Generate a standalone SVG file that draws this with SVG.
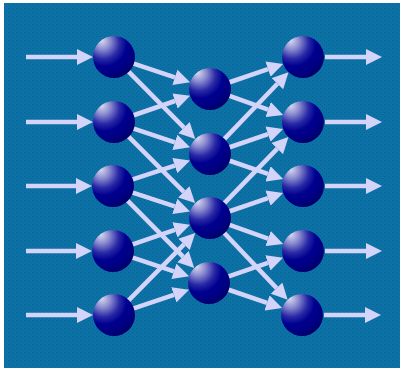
<svg xmlns="http://www.w3.org/2000/svg" width="400" height="369" viewBox="0 0 400 369">
<defs>
<radialGradient id="sph" cx="0.32" cy="0.25" r="0.85" fx="0.2" fy="0.1">
<stop offset="0" stop-color="#dcdcf2"/>
<stop offset="0.22" stop-color="#8c8cd0"/>
<stop offset="0.45" stop-color="#2828a6"/>
<stop offset="0.62" stop-color="#000090"/>
<stop offset="0.85" stop-color="#00007c"/>
<stop offset="1" stop-color="#00005a"/>
</radialGradient>
<pattern id="dots" width="4" height="4" patternUnits="userSpaceOnUse">
<rect width="4" height="4" fill="#0c72a6"/>
<rect x="0" y="0" width="1" height="1" fill="#0a6294"/>
<rect x="2" y="2" width="1" height="1" fill="#0a6698"/>
</pattern>
<marker id="ah" markerUnits="userSpaceOnUse" markerWidth="16" markerHeight="16" refX="0" refY="8" orient="auto" viewBox="0 0 16 16">
<path d="M0,0 L16,8 L0,16 z" fill="#d4d4fa"/>
</marker>
<style>
.e{stroke:#d4d4fa;stroke-width:4.5;fill:none;marker-end:url(#ah)}
.n{fill:url(#sph)}
</style>
</defs>
<rect x="0" y="0" width="400" height="369" fill="#ffffff"/>
<rect x="4" y="3" width="396" height="365" fill="url(#dots)"/>
<g id="connectors">
<line class="e" x1="26" y1="57" x2="77" y2="57"/>
<line class="e" x1="26" y1="122" x2="77" y2="122"/>
<line class="e" x1="26" y1="186" x2="76" y2="186"/>
<line class="e" x1="26" y1="251" x2="76" y2="251"/>
<line class="e" x1="26" y1="315" x2="77" y2="315"/>
<line class="e" x1="133" y1="63.3" x2="174.9" y2="77.3"/>
<line class="e" x1="128.1" y1="71.2" x2="184" y2="127.7"/>
<line class="e" x1="132.9" y1="115.5" x2="175" y2="101"/>
<line class="e" x1="133" y1="128.3" x2="174.9" y2="142.3"/>
<line class="e" x1="128.1" y1="136.1" x2="183.8" y2="191.8"/>
<line class="e" x1="132" y1="179.7" x2="174.8" y2="165.6"/>
<line class="e" x1="132" y1="192.3" x2="174.8" y2="206.4"/>
<line class="e" x1="127.1" y1="200.2" x2="183" y2="256.7"/>
<line class="e" x1="131.9" y1="244.6" x2="174.9" y2="229.9"/>
<line class="e" x1="132" y1="257.3" x2="173.9" y2="271.3"/>
<line class="e" x1="128.1" y1="300.8" x2="184" y2="244.3"/>
<line class="e" x1="133" y1="308.6" x2="173.9" y2="294.8"/>
<line class="e" x1="228.9" y1="82.5" x2="268" y2="69.1"/>
<line class="e" x1="228.8" y1="95.7" x2="268.1" y2="109.6"/>
<line class="e" x1="223.8" y1="139.6" x2="277.4" y2="83.7"/>
<line class="e" x1="228.9" y1="147.5" x2="268" y2="134.1"/>
<line class="e" x1="228.9" y1="160.5" x2="268" y2="173.9"/>
<line class="e" x1="223.9" y1="203.6" x2="277.3" y2="148.6"/>
<line class="e" x1="228.9" y1="211.5" x2="268" y2="198.1"/>
<line class="e" x1="228.8" y1="224.7" x2="268.1" y2="238.6"/>
<line class="e" x1="223.8" y1="232.5" x2="276.6" y2="288.1"/>
<line class="e" x1="227.9" y1="276.6" x2="267.9" y2="262.9"/>
<line class="e" x1="227.9" y1="289.5" x2="267" y2="302.9"/>
<line class="e" x1="325" y1="57" x2="366" y2="57"/>
<line class="e" x1="325" y1="122" x2="366" y2="122"/>
<line class="e" x1="325" y1="186" x2="366" y2="186"/>
<line class="e" x1="325" y1="251" x2="366" y2="251"/>
<line class="e" x1="324" y1="315" x2="365" y2="315"/>
</g>
<g id="in1"><circle class="n" cx="114" cy="57" r="21"/></g>
<g id="in2"><circle class="n" cx="114" cy="122" r="21"/></g>
<g id="in3"><circle class="n" cx="113" cy="186" r="21"/></g>
<g id="in4"><circle class="n" cx="113" cy="251" r="21"/></g>
<g id="in5"><circle class="n" cx="114" cy="315" r="21"/></g>
<g id="hid1"><circle class="n" cx="210" cy="89" r="21"/></g>
<g id="hid2"><circle class="n" cx="210" cy="154" r="21"/></g>
<g id="hid3"><circle class="n" cx="210" cy="218" r="21"/></g>
<g id="hid4"><circle class="n" cx="209" cy="283" r="21"/></g>
<g id="out1"><circle class="n" cx="303" cy="57" r="21"/></g>
<g id="out2"><circle class="n" cx="303" cy="122" r="21"/></g>
<g id="out3"><circle class="n" cx="303" cy="186" r="21"/></g>
<g id="out4"><circle class="n" cx="303" cy="251" r="21"/></g>
<g id="out5"><circle class="n" cx="302" cy="315" r="21"/></g>
</svg>
